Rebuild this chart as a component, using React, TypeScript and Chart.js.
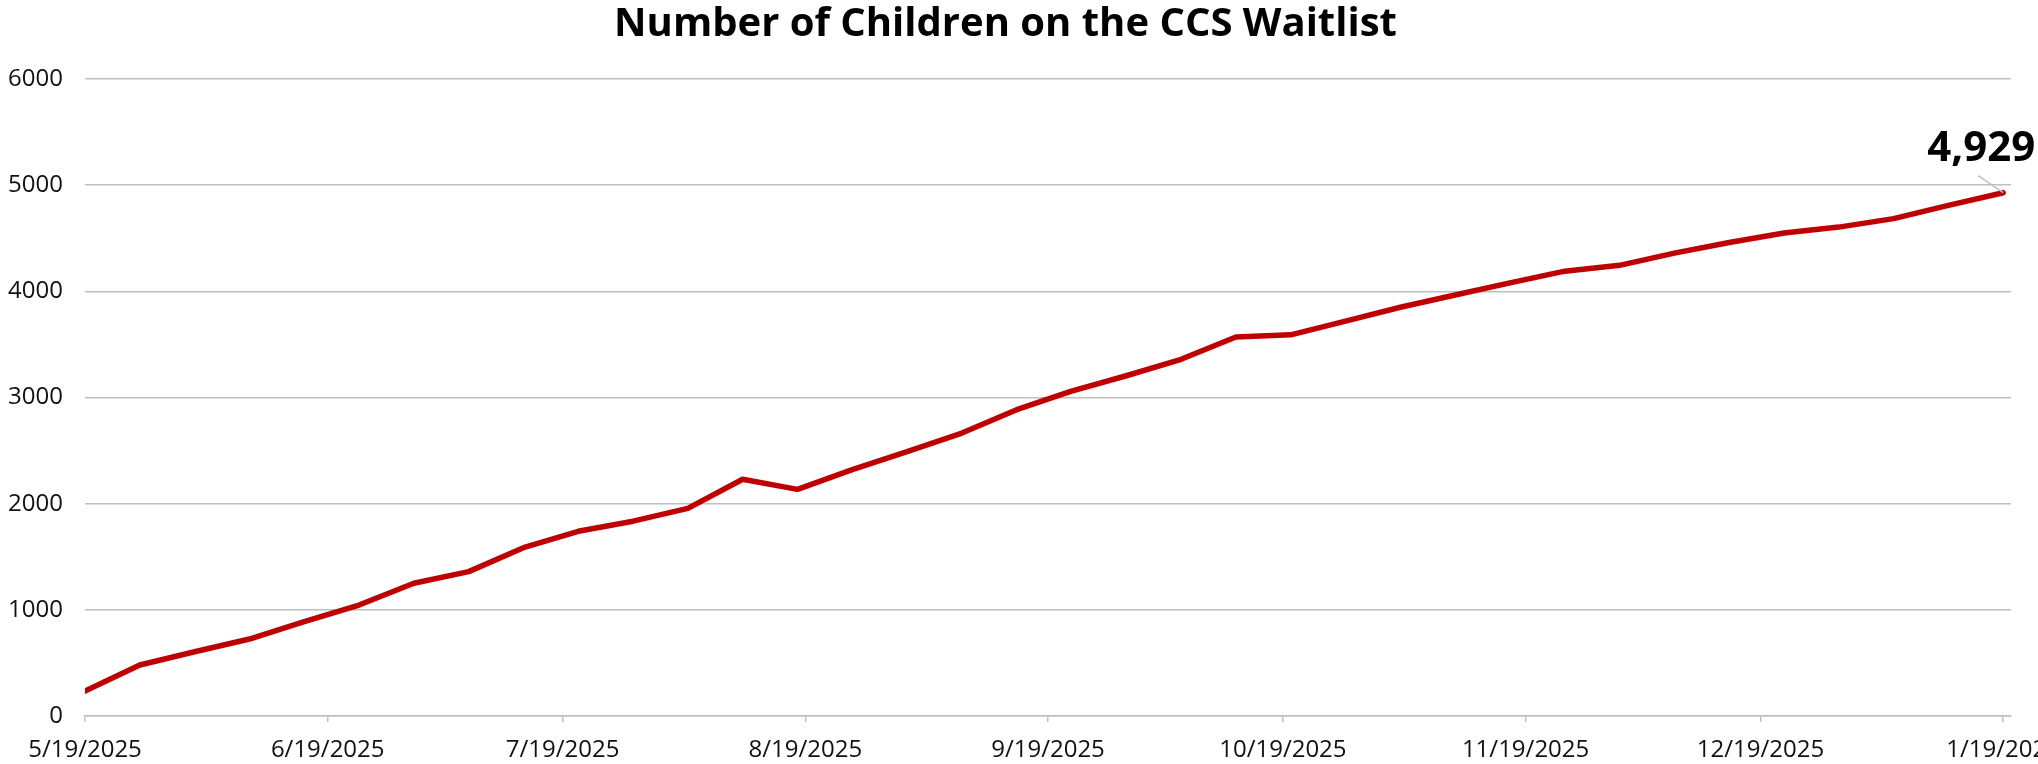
import React, { useEffect, useRef } from "react";
import { Chart, registerables } from "chart.js";

Chart.register(...registerables);

// ---- Data ----
const weekDates = [
  "2025-05-19", "2025-05-26", "2025-06-02", "2025-06-09", "2025-06-16", "2025-06-23",
  "2025-06-30", "2025-07-07", "2025-07-14", "2025-07-21", "2025-07-28", "2025-08-04",
  "2025-08-11", "2025-08-18", "2025-08-25", "2025-09-01", "2025-09-08", "2025-09-15",
  "2025-09-22", "2025-09-29", "2025-10-06", "2025-10-13", "2025-10-20", "2025-10-27",
  "2025-11-03", "2025-11-10", "2025-11-17", "2025-11-24", "2025-12-01", "2025-12-08",
  "2025-12-15", "2025-12-22", "2025-12-29", "2026-01-05", "2026-01-12", "2026-01-19",
];

const waitlistCounts = [
  235, 480, 605, 725, 890, 1045,
  1250, 1360, 1585, 1740, 1835, 1955,
  2230, 2135, 2320, 2490, 2665, 2885,
  3060, 3205, 3360, 3570, 3590, 3720,
  3850, 3965, 4080, 4190, 4245, 4360,
  4460, 4550, 4605, 4685, 4810, 4929,
];

const xTickDates = [
  "2025-05-19", "2025-06-19", "2025-07-19", "2025-08-19", "2025-09-19",
  "2025-10-19", "2025-11-19", "2025-12-19", "2026-01-19",
];
const xTickLabels = [
  "5/19/2025", "6/19/2025", "7/19/2025", "8/19/2025", "9/19/2025",
  "10/19/2025", "11/19/2025", "12/19/2025", "1/19/2026",
];

const axisStartDate = "2025-05-19";
const axisEndDate = "2026-01-20";
const yTicks = [0, 1000, 2000, 3000, 4000, 5000, 6000];

const titleText = "Number of Children on the CCS Waitlist";

// ---- helpers ----
const DAY = 86400000;
const toDays = (s: string) => {
  const [y, m, d] = s.split("-").map(Number);
  return Math.round((Date.UTC(y, m - 1, d) - Date.UTC(2025, 4, 19)) / DAY);
};

const lastLabelPlugin = {
  id: "lastLabel",
  afterDatasetsDraw(chart: any) {
    const meta = chart.getDatasetMeta(0);
    const pt = meta.data[meta.data.length - 1];
    if (!pt) return;
    const ctx = chart.ctx;
    const px = pt.x;
    const py = pt.y;
    ctx.save();
    ctx.strokeStyle = "#bfbfbf";
    ctx.lineWidth = 1.5;
    ctx.beginPath();
    ctx.moveTo(px, py);
    ctx.lineTo(px - 25, py - 17);
    ctx.stroke();
    ctx.fillStyle = "#000";
    ctx.font = "bold 42px 'Open Sans'";
    ctx.textAlign = "center";
    ctx.textBaseline = "alphabetic";
    const v = waitlistCounts[waitlistCounts.length - 1].toLocaleString("en-US");
    ctx.fillText(v, px - 22, py - 32);
    ctx.restore();
  },
};

export default function App() {
  const ref = useRef<HTMLCanvasElement | null>(null);

  useEffect(() => {
    document.body.style.margin = "0";
    document.body.style.overflow = "hidden";
    const canvas = ref.current;
    if (!canvas) return;

    const points = weekDates.map((d, i) => ({ x: toDays(d), y: waitlistCounts[i] }));
    const tickDays = xTickDates.map(toDays);

    const chart = new Chart(canvas, {
      type: "line",
      data: {
        datasets: [
          {
            data: points,
            borderColor: "#c00000",
            borderWidth: 5.5,
            pointRadius: 0,
            borderJoinStyle: "round",
            borderCapStyle: "round",
            tension: 0,
            fill: false,
          },
        ],
      },
      options: {
        animation: false,
        responsive: false,
        devicePixelRatio: 1,
        layout: { padding: { left: 0, right: 27, top: 0, bottom: 0 } },
        plugins: {
          legend: { display: false },
          tooltip: { enabled: false },
          title: {
            display: true,
            text: titleText,
            color: "#000",
            font: { family: "'Open Sans'", size: 40, weight: "bold", lineHeight: 1.2 },
            padding: { top: 1, bottom: 30 },
          },
        },
        scales: {
          x: {
            type: "linear",
            min: toDays(axisStartDate),
            max: toDays(axisEndDate),
            afterBuildTicks(scale: any) {
              scale.ticks = tickDays.map((v) => ({ value: v }));
            },
            afterFit(scale: any) {
              scale.height = 48;
              scale.paddingLeft = 0;
              scale.paddingRight = 0;
            },
            ticks: {
              autoSkip: false,
              maxRotation: 0,
              padding: 14,
              color: "#111",
              font: { family: "'Open Sans'", size: 24, weight: "normal" },
              callback(value: any) {
                const i = tickDays.indexOf(Number(value));
                return i >= 0 ? xTickLabels[i] : "";
              },
            },
            grid: {
              display: true,
              drawOnChartArea: false,
              drawTicks: true,
              tickLength: 6,
              color: "#bfbfbf",
              lineWidth: 1.5,
            },
            border: { display: true, color: "#bfbfbf", width: 1.5 },
          },
          y: {
            min: 0,
            max: 6000,
            afterBuildTicks(scale: any) {
              scale.ticks = yTicks.map((v) => ({ value: v }));
            },
            afterFit(scale: any) {
              scale.width = 85;
              scale.paddingTop = 0;
              scale.paddingBottom = 0;
            },
            ticks: {
              padding: 22,
              color: "#111",
              font: { family: "'Open Sans'", size: 24, weight: "normal" },
              callback(value: any) {
                return String(value);
              },
            },
            grid: {
              color: "#bfbfbf",
              lineWidth: 1.5,
              drawTicks: false,
            },
            border: { display: false },
          },
        },
      },
      plugins: [lastLabelPlugin],
    } as any);

    return () => chart.destroy();
  }, []);

  return (
    <div style={{ width: 2038, height: 764, overflow: "hidden", background: "#fff" }}>
      <canvas ref={ref} width={2038} height={764} style={{ display: "block", width: 2038, height: 764 }} />
    </div>
  );
}
